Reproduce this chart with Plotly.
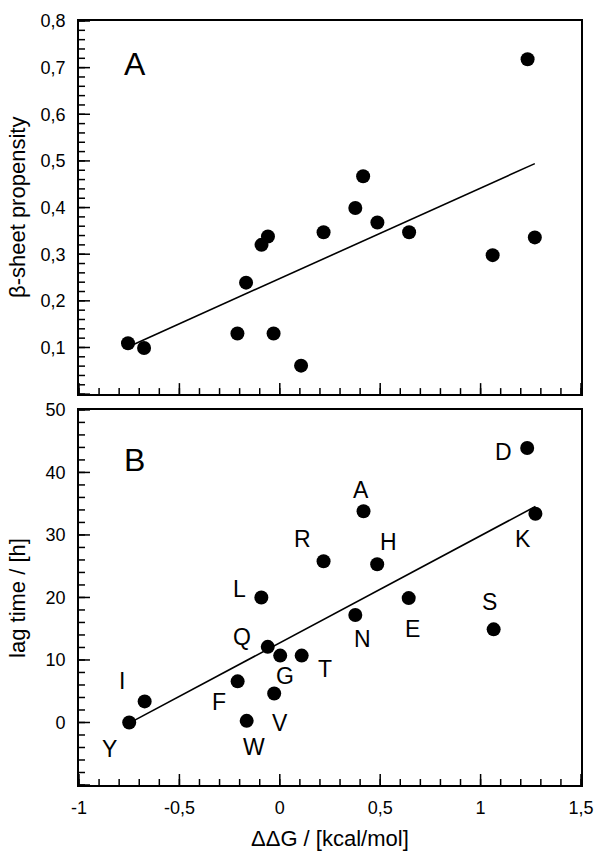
import numpy as np
import plotly.graph_objects as go

# ---- data ----
# Panel A: beta-sheet propensity vs ddG
dg_a = [-0.756, -0.676, -0.211, -0.168, -0.091, -0.059, -0.031, 0.106, 0.218,
        0.376, 0.415, 0.486, 0.644, 1.060, 1.234, 1.270]
beta_prop = [0.109, 0.099, 0.130, 0.239, 0.320, 0.338, 0.130, 0.061, 0.347,
             0.399, 0.467, 0.368, 0.347, 0.298, 0.718, 0.336]

# Panel B: lag time vs ddG, with residue letters
residues = ["Y", "I", "F", "W", "L", "Q", "V", "G", "T", "R", "N", "A", "H", "E", "S", "D", "K"]
dg_b = [-0.750, -0.673, -0.210, -0.165, -0.092, -0.060, -0.028, 0.002, 0.109,
        0.218, 0.376, 0.417, 0.485, 0.642, 1.065, 1.232, 1.273]
lag_time = [0.0, 3.37, 6.58, 0.26, 20.0, 12.1, 4.63, 10.7, 10.7,
            25.8, 17.2, 33.8, 25.3, 19.9, 14.9, 43.9, 33.4]

# tick labels
x_tickvals = [-1, -0.5, 0, 0.5, 1, 1.5]
x_ticktext = ["-1", "-0,5", "0", "0,5", "1", "1,5"]
ya_tickvals = [0.1, 0.2, 0.3, 0.4, 0.5, 0.6, 0.7, 0.8]
ya_ticktext = ["0,1", "0,2", "0,3", "0,4", "0,5", "0,6", "0,7", "0,8"]
yb_tickvals = [0, 10, 20, 30, 40, 50]
yb_ticktext = ["0", "10", "20", "30", "40", "50"]

# ---- style / layout settings ----
FONT = "Liberation Sans, Arial, Helvetica, sans-serif"
# label offsets in pixels (dx, dy) relative to each point
label_offsets = {
    "Y": (-20, -27), "I": (-23, 20), "F": (-19, -21), "W": (7, -26),
    "L": (-22, 8), "Q": (-26, 10), "V": (6, -29), "G": (5, -20),
    "T": (23, -13), "R": (-21, 22), "N": (7, -24), "A": (-3, 21),
    "H": (11, 22), "E": (4, -31), "S": (-4, 27), "D": (-24, -4),
    "K": (-12, -25),
}

# tick mark positions (axis decoration)
x_major = [-1, -0.5, 0, 0.5, 1, 1.5]
x_minor = [round(v, 2) for v in np.arange(-1.0, 1.5001, 0.1)]
ya_major = [round(v, 2) for v in np.arange(0.0, 0.8001, 0.1)]
ya_minor = [round(v, 3) for v in np.arange(0.0, 0.8001, 0.02)]
yb_major = [round(v, 1) for v in np.arange(-10, 50.001, 10)]
yb_minor = [round(v, 1) for v in np.arange(-10, 50.001, 2)]
MAJOR_LEN, MINOR_LEN, TICK_W = 11, 6, 1.5

fig = go.Figure()

def fit_line(x, y):
    x = np.asarray(x); y = np.asarray(y)
    k, b = np.polyfit(x, y, 1)
    xs = np.array([x.min(), x.max()])
    return xs, k * xs + b

# Panel A
xs, ys = fit_line(dg_a, beta_prop)
fig.add_trace(go.Scatter(x=xs, y=ys, mode="lines", line=dict(color="black", width=1.6),
                         xaxis="x2", yaxis="y2", showlegend=False, hoverinfo="skip"))
fig.add_trace(go.Scatter(x=dg_a, y=beta_prop, mode="markers",
                         marker=dict(color="black", size=14),
                         xaxis="x2", yaxis="y2", showlegend=False))

# Panel B
xs, ys = fit_line(dg_b, lag_time)
fig.add_trace(go.Scatter(x=xs, y=ys, mode="lines", line=dict(color="black", width=1.6),
                         xaxis="x", yaxis="y", showlegend=False, hoverinfo="skip"))
fig.add_trace(go.Scatter(x=dg_b, y=lag_time, mode="markers",
                         marker=dict(color="black", size=14),
                         xaxis="x", yaxis="y", showlegend=False))

annotations = []
for r, xv, yv in zip(residues, dg_b, lag_time):
    dx, dy = label_offsets[r]
    annotations.append(dict(x=xv, y=yv, xref="x", yref="y", text=r, showarrow=False,
                            xshift=dx, yshift=dy, xanchor="center", yanchor="middle",
                            font=dict(family=FONT, size=23, color="black")))

# panel letters
annotations.append(dict(x=0.111, y=0.884, xref="x2 domain", yref="y2 domain", text="A",
                        showarrow=False, xanchor="center", yanchor="middle",
                        font=dict(family=FONT, size=32, color="black")))
annotations.append(dict(x=0.111, y=0.866, xref="x domain", yref="y domain", text="B",
                        showarrow=False, xanchor="center", yanchor="middle",
                        font=dict(family=FONT, size=32, color="black")))

# axis titles
annotations.append(dict(x=-63 / 514, y=(396 / 774 + 1) / 2, xref="paper", yref="paper",
                        text="β-sheet propensity", textangle=-90, showarrow=False,
                        xanchor="center", yanchor="middle",
                        font=dict(family=FONT, size=22, color="black")))
annotations.append(dict(x=-63 / 514, y=190 / 774, xref="paper", yref="paper",
                        text="lag time / [h]", textangle=-90, showarrow=False,
                        xanchor="center", yanchor="middle",
                        font=dict(family=FONT, size=22, color="black")))
annotations.append(dict(x=0.5, y=-54 / 774, xref="paper", yref="paper",
                        text="ΔΔG / [kcal/mol]", showarrow=False,
                        xanchor="center", yanchor="middle",
                        font=dict(family=FONT, size=22, color="black")))

# inward tick marks drawn as pixel-sized shapes anchored on the axes
shapes = []
def x_ticks(xref, yref, vals, length):
    for v in vals:
        shapes.append(dict(type="line", xref=xref, yref=yref, x0=v, x1=v,
                           ysizemode="pixel", yanchor=0, y0=0, y1=length,
                           line=dict(color="black", width=TICK_W), layer="above"))

def y_ticks(xref, yref, vals, length):
    for v in vals:
        shapes.append(dict(type="line", xref=xref, yref=yref, y0=v, y1=v,
                           xsizemode="pixel", xanchor=0, x0=0, x1=length,
                           line=dict(color="black", width=TICK_W), layer="above"))

for xr, yr in (("x", "y domain"), ("x2", "y2 domain")):
    x_ticks(xr, yr, x_minor, MINOR_LEN)
    x_ticks(xr, yr, x_major, MAJOR_LEN)
y_ticks("x domain", "y", yb_minor, MINOR_LEN)
y_ticks("x domain", "y", yb_major, MAJOR_LEN)
y_ticks("x2 domain", "y2", ya_minor, MINOR_LEN)
y_ticks("x2 domain", "y2", ya_major, MAJOR_LEN)

# invisible outside ticks only set the label distance from the axes
axis_common = dict(showline=True, linecolor="black", linewidth=1.6, mirror=True,
                   showgrid=False, zeroline=False, ticks="outside",
                   tickcolor="rgba(0,0,0,0)", tickwidth=1,
                   tickfont=dict(family=FONT, size=18, color="black"))

fig.update_layout(
    width=605, height=853,
    margin=dict(l=79, r=12, t=11, b=68),
    paper_bgcolor="white", plot_bgcolor="white",
    xaxis=dict(domain=[0, 1], anchor="y", range=[-1, 1.5], ticklen=6,
               tickmode="array", tickvals=x_tickvals, ticktext=x_ticktext,
               **axis_common),
    yaxis=dict(domain=[0, 380 / 774], anchor="x", range=[-10, 50], ticklen=8,
               tickmode="array", tickvals=yb_tickvals, ticktext=yb_ticktext,
               **axis_common),
    xaxis2=dict(domain=[0, 1], anchor="y2", range=[-1, 1.5], matches="x", ticklen=6,
                showticklabels=False, tickmode="array", tickvals=x_tickvals,
                **axis_common),
    yaxis2=dict(domain=[396 / 774, 1], anchor="x2", range=[0, 0.8], ticklen=8,
                tickmode="array", tickvals=ya_tickvals, ticktext=ya_ticktext,
                **axis_common),
    annotations=annotations,
    shapes=shapes,
    showlegend=False,
)

fig.write_html("out.html", config={"displayModeBar": False},
               post_script="document.body.style.margin='0px';")
